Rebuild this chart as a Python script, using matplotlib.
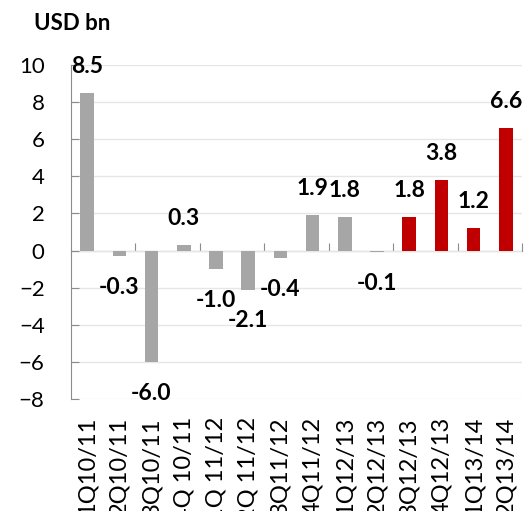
import numpy as np
import matplotlib
matplotlib.use("Agg")
import matplotlib.pyplot as plt

# quarterly values, USD bn
quarters = ["1Q10/11", "2Q10/11", "3Q10/11", "4Q 10/11", "1Q 11/12", "2Q 11/12",
            "3Q11/12", "4Q11/12", "1Q12/13", "2Q12/13", "3Q12/13", "4Q12/13",
            "1Q13/14", "2Q13/14"]
values = [8.5, -0.3, -6.0, 0.3, -1.0, -2.1, -0.4, 1.9, 1.8, -0.1, 1.8, 3.8, 1.2, 6.6]
highlight = [False] * 10 + [True] * 4

plt.rcParams['font.family'] = ['Lato', 'DejaVu Sans']

gray = "#A6A6A6"
red = "#C00000"
axis_col = "#8C8C8C"
ymin, ymax = -8, 10

fig = plt.figure(figsize=(5.25, 5.11), dpi=100)
ax = fig.add_axes([71 / 525, 1 - 399 / 511, 451 / 525, 334 / 511])

x = np.arange(len(values))
colors = [red if h else gray for h in highlight]
ax.bar(x, values, width=0.42, color=colors, zorder=2)

ax.set_xlim(-0.5, len(values) - 0.5)
ax.set_ylim(ymin, ymax)
ax.set_yticks(np.arange(ymin, ymax + 1, 2))
ax.yaxis.grid(True, color="#E6E6E6", lw=1)
ax.set_axisbelow(True)

for s in ["top", "right", "bottom"]:
    ax.spines[s].set_visible(False)
ax.spines["left"].set_color(axis_col)
ax.tick_params(axis="y", direction="in", length=6, color=axis_col,
               pad=19, labelsize=16)

ax.set_xticks(x)
ax.set_xticklabels(quarters, rotation=90, fontsize=17)
ax.tick_params(axis="x", length=0, pad=13)

# zero line with tick marks every two quarters
zero = ax.secondary_xaxis((0 - ymin) / (ymax - ymin))
zero.set_xticks(np.arange(1.5, len(values), 2))
zero.tick_params(direction="in", length=6, color=axis_col, labelbottom=False)
zero.spines["bottom"].set_color(axis_col)

for xi, v in zip(x, values):
    off = 19 if v > 0 else -22.5
    ax.annotate(f"{v:.1f}", (xi, v), xytext=(0, off), textcoords="offset points",
                ha="center", va="center", fontsize=16.5, fontweight="bold")

fig.text(34 / 525, 1 - 24 / 511, "USD bn", fontsize=16, fontweight="bold",
         ha="left", va="center")

fig.savefig("out.png", dpi=100)
